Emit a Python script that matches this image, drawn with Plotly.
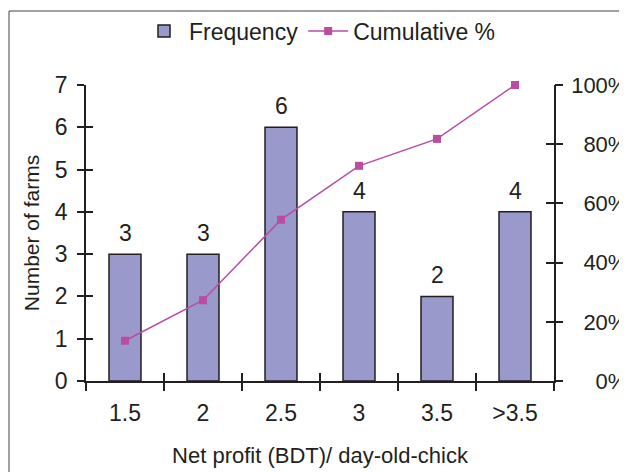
import plotly.graph_objects as go

categories = ["1.5", "2", "2.5", "3", "3.5", ">3.5"]
frequency = [3, 3, 6, 4, 2, 4]
cumulative_pct = [13.6, 27.3, 54.5, 72.7, 81.8, 100.0]
left_ticks = [0, 1, 2, 3, 4, 5, 6, 7]
right_ticks = [0, 20, 40, 60, 80, 100]
right_ticktext = ["\u2007\u20070%", "\u200720%", "\u200740%", "\u200760%", "\u200780%", "100%"]

INK = "#231F20"
FONT = "Liberation Sans, Arial, sans-serif"

fig = go.Figure()
fig.add_trace(go.Bar(
    x=categories, y=frequency, name="Frequency",
    marker=dict(color="#9999CC", line=dict(color=INK, width=1.5)),
))
fig.add_trace(go.Scatter(
    x=categories, y=cumulative_pct, name="Cumulative %", yaxis="y2",
    mode="lines+markers",
    line=dict(color="#BA4CA2", width=1.5),
    marker=dict(symbol="square", size=8, color="#BA4CA2"),
    cliponaxis=False,
))
# helper traces so the overlay tick axes are rendered
fig.add_trace(go.Scatter(x=categories, y=[None]*6, yaxis="y3", showlegend=False, hoverinfo="skip"))
fig.add_trace(go.Scatter(x=categories, y=[None]*6, yaxis="y4", showlegend=False, hoverinfo="skip"))
fig.add_trace(go.Scatter(x=[0], y=[None], xaxis="x2", showlegend=False, hoverinfo="skip"))

# value labels above bars (x given as the category's index on the category axis)
for i, v in enumerate(frequency):
    fig.add_annotation(x=i, y=v, xref="x", yref="y", text=str(v), showarrow=False,
                       yanchor="middle", yshift=21,
                       font=dict(size=23, color=INK, family=FONT))

axis_font = dict(size=23, color=INK, family=FONT)
fig.update_layout(
    width=619, height=464,
    margin=dict(l=78, r=73, t=77, b=91, autoexpand=False),
    paper_bgcolor="white", plot_bgcolor="white",
    font=dict(family=FONT, color=INK, size=22),
    bargap=0.59,
    showlegend=True,
    legend=dict(orientation="h", x=0.5, xanchor="center", y=1.182, yanchor="middle",
                font=dict(size=23, color=INK, family=FONT), bgcolor="rgba(0,0,0,0)",
                itemwidth=40, tracegroupgap=0),
    xaxis=dict(
        type="category", showgrid=False, showline=True, linecolor=INK, linewidth=1.5,
        ticks="outside", ticklen=8, tickwidth=1.5, tickcolor=INK, tickson="boundaries",
        tickfont=axis_font, zeroline=False, ticklabelstandoff=11,
        title=dict(text="Net profit (BDT)/ day-old-chick", font=dict(size=22, color=INK, family=FONT), standoff=22),
    ),
    yaxis=dict(
        range=[0, 7], tickvals=left_ticks, showgrid=False, showline=True, linecolor=INK, linewidth=1.5,
        ticks="outside", ticklen=7, tickwidth=1.5, tickcolor=INK, tickfont=axis_font, zeroline=False,
        ticklabelstandoff=5,
        title=dict(text="Number of farms", font=dict(size=21, color=INK, family=FONT), standoff=10),
    ),
    yaxis2=dict(
        range=[0, 100], tickvals=right_ticks, ticktext=right_ticktext, overlaying="y", side="right",
        showgrid=False, showline=True, linecolor=INK, linewidth=1.5,
        ticks="inside", ticklen=8, tickwidth=1.5, tickcolor=INK,
        tickfont=dict(size=22, color=INK, family=FONT), zeroline=False,
        ticklabelstandoff=11,
    ),
    yaxis3=dict(
        range=[0, 7], tickvals=left_ticks, overlaying="y", side="left", showgrid=False,
        ticks="inside", ticklen=7, tickwidth=1.5, tickcolor=INK, showticklabels=False, zeroline=False, showline=False,
    ),
    yaxis4=dict(
        range=[0, 100], tickvals=right_ticks, overlaying="y", side="right", showgrid=False,
        ticks="outside", ticklen=8, tickwidth=1.5, tickcolor=INK, showticklabels=False, zeroline=False, showline=False,
    ),
    xaxis2=dict(
        range=[-0.5, 5.5], tickvals=[-0.5, 0.5, 1.5, 2.5, 3.5, 4.5, 5.5], overlaying="x", anchor="y",
        side="bottom", showgrid=False, ticks="inside", ticklen=8, tickwidth=1.5, tickcolor=INK,
        showticklabels=False, zeroline=False, showline=False,
    ),
    shapes=[dict(type="rect", xref="paper", yref="paper", x0=-0.1645, x1=1.6, y0=-0.6, y1=1.25,
                 line=dict(color="#444444", width=1), fillcolor="rgba(0,0,0,0)", layer="below")],
)

fig.write_html("out.html")
